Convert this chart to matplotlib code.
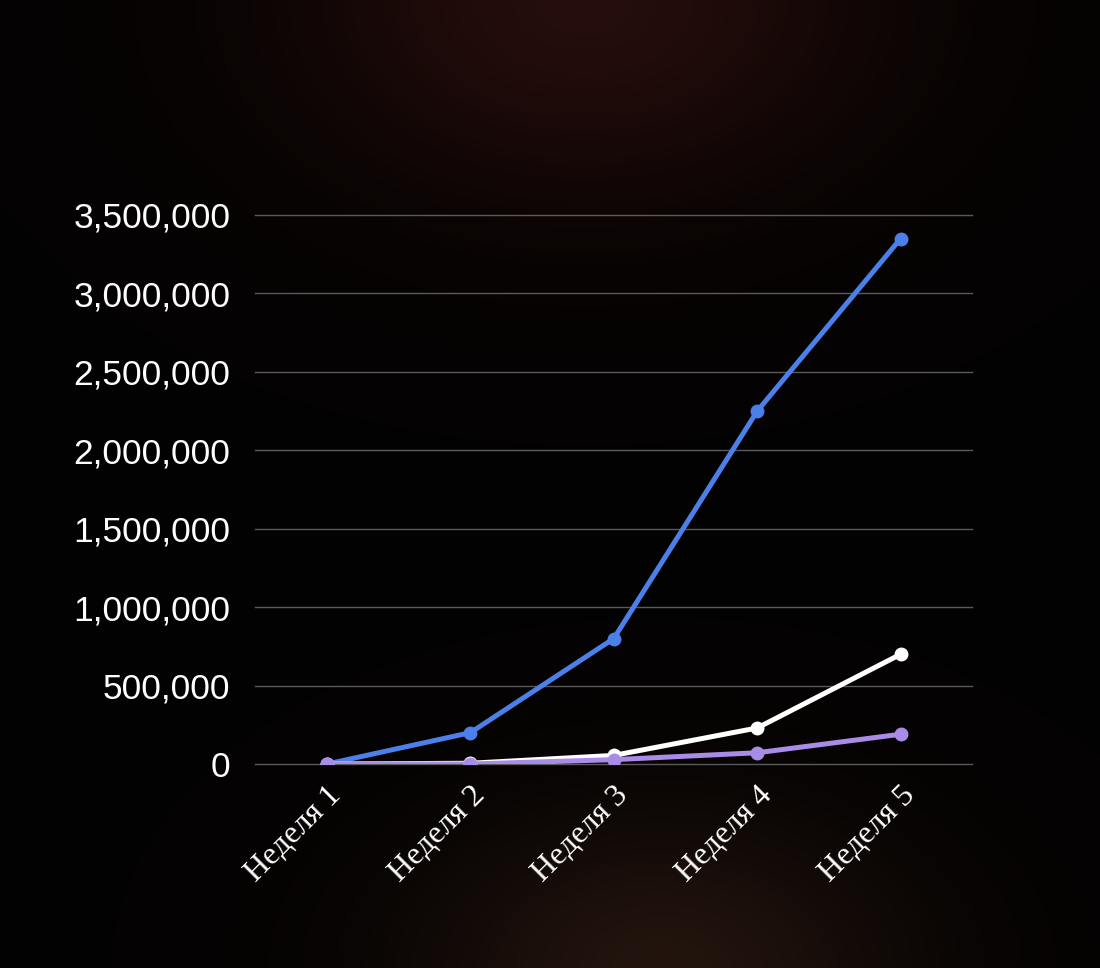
import numpy as np
import matplotlib.pyplot as plt
from matplotlib.ticker import FuncFormatter

weeks = ['Неделя 1', 'Неделя 2', 'Неделя 3', 'Неделя 4', 'Неделя 5']
blue_vals = [0, 200000, 800000, 2250000, 3350000]
white_vals = [0, 5000, 55000, 230000, 700000]
purple_vals = [0, 0, 28000, 72000, 190000]

fig = plt.figure(figsize=(11, 9.68), dpi=100)
fig.patch.set_facecolor('black')

# фон: тёмный с красновато-коричневым свечением сверху и снизу
bg = fig.add_axes([0, 0, 1, 1], zorder=-10)
h, w = 242, 275
yy, xx = np.mgrid[0:h, 0:w]
xx = xx / w
yy = yy / h
glow_top = np.exp(-(((xx - 0.53) / 0.26) ** 2 + ((yy - 0.0) / 0.2) ** 2))
glow_bot = np.exp(-(((xx - 0.6) / 0.22) ** 2 + ((yy - 1.0) / 0.16) ** 2))
img = np.zeros((h, w, 3))
img[..., 0] = 0.015 + 0.13 * glow_top + 0.12 * glow_bot
img[..., 1] = 0.008 + 0.045 * glow_top + 0.07 * glow_bot
img[..., 2] = 0.008 + 0.035 * glow_top + 0.045 * glow_bot
bg.imshow(np.clip(img, 0, 1), aspect='auto', extent=[0, 1, 0, 1], interpolation='bicubic')
bg.axis('off')

ax = fig.add_axes([0.232, 0.2107, 0.652, 0.5672])
ax.set_facecolor('none')

x = np.arange(len(weeks))
ax.plot(x, blue_vals, color='#4b7fe9', linewidth=3.6, marker='o', markersize=9, zorder=3)
ax.plot(x, white_vals, color='white', linewidth=3.6, marker='o', markersize=9, zorder=4)
ax.plot(x, purple_vals, color='#a98be8', linewidth=3.6, marker='o', markersize=9, zorder=5)

ax.set_xlim(-0.5, 4.5)
ax.set_ylim(0, 3500000)
ax.set_yticks(np.arange(0, 3500001, 500000))
ax.yaxis.set_major_formatter(FuncFormatter(lambda v, p: f'{int(v):,}'))
ax.grid(axis='y', color='#5a5a5a', linewidth=1)
ax.set_axisbelow(True)
for gl in ax.get_ygridlines():
    gl.set_clip_on(False)
for s in ax.spines.values():
    s.set_visible(False)

ax.tick_params(axis='y', length=0, pad=18, labelsize=25.5, labelcolor='white')
ax.tick_params(axis='x', length=0, pad=12, labelcolor='white')
for lbl in ax.get_yticklabels():
    lbl.set_fontfamily('Liberation Sans')

ax.set_xticks(x)
ax.set_xticklabels(weeks, rotation=45, ha='right', rotation_mode='anchor',
                   fontsize=23, family='Liberation Serif')

fig.savefig('out.png', dpi=100, facecolor=fig.get_facecolor())
